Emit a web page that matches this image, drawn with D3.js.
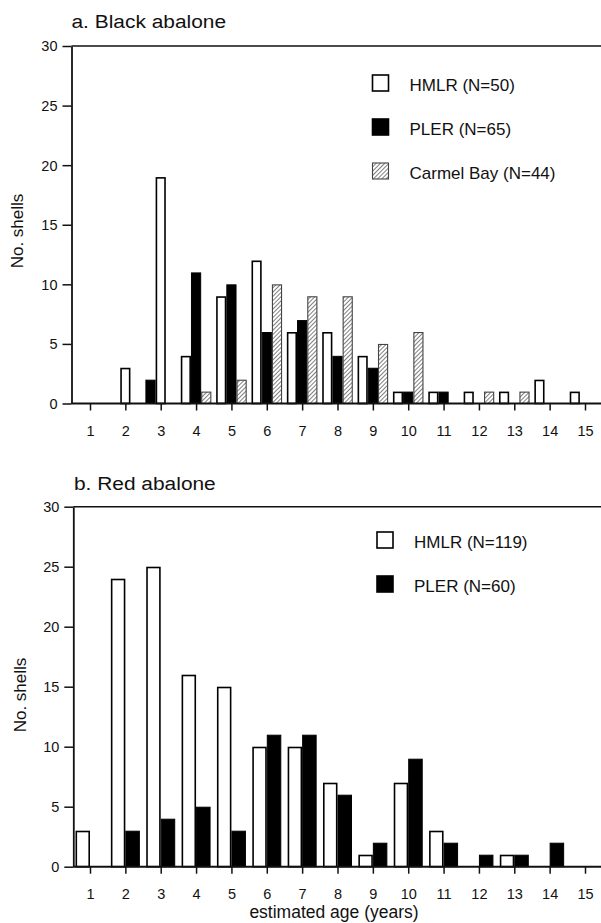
<!DOCTYPE html>
<html><head><meta charset="utf-8">
<script src="https://cdn.jsdelivr.net/npm/d3@7"></script>
<style>
body{margin:0;background:#fff}
svg text{font-family:"Liberation Sans",Arial,Helvetica,sans-serif;fill:#111}
</style>
</head><body>
<svg id="chart" width="601" height="923"></svg>
<script>
// ---------- data ----------
const ages = [1,2,3,4,5,6,7,8,9,10,11,12,13,14,15];
const blackHMLR   = [0,3,19,4,9,12,6,6,4,1,1,1,1,2,1];
const blackPLER   = [0,0,2,11,10,6,7,4,3,1,1,0,0,0,0];
const blackCarmel = [0,0,0,1,2,10,9,9,5,6,0,1,1,0,0];
const redHMLR     = [3,24,25,16,15,10,10,7,1,7,3,0,1,0,0];
const redPLER     = [0,3,4,5,3,11,11,6,2,9,2,1,1,2,0];
const yTicks = [0,5,10,15,20,25,30];
const blackLegend = ["HMLR (N=50)","PLER (N=65)","Carmel Bay (N=44)"];
const redLegend = ["HMLR (N=119)","PLER (N=60)"];
const titles = ["a. Black abalone","b. Red abalone"];
const yLabel = "No. shells";
const xLabel = "estimated age (years)";

// ---------- drawing ----------
const svg = d3.select("#chart");
const W = 601;
const defs = svg.append("defs");
const pat = defs.append("pattern").attr("id","hatch").attr("patternUnits","userSpaceOnUse")
  .attr("width",3).attr("height",3).attr("patternTransform","rotate(45)");
pat.append("rect").attr("width",3).attr("height",3).attr("fill","#fff");
pat.append("line").attr("x1",0).attr("y1",0).attr("x2",0).attr("y2",3)
  .attr("stroke","#2a2a2a").attr("stroke-width",1.2);

const x = d3.scaleLinear().domain([1,15]).range([90,585]);

const styles = {
  HMLR:   {fill:"#fff", stroke:"#000", sw:1.6},
  PLER:   {fill:"#000", stroke:"#000", sw:1},
  Carmel: {fill:"url(#hatch)", stroke:"#444", sw:1.1}
};

function panel(cfg){
  const g = svg.append("g");
  const y = d3.scaleLinear().domain([0,30]).range([cfg.y0, cfg.y30]);
  const slot = d3.scaleBand().domain(cfg.slots).range(cfg.slotRange).padding(0);

  g.append("line").attr("x1",cfg.ax).attr("x2",W).attr("y1",y(30)).attr("y2",y(30))
    .attr("stroke","#111").attr("stroke-width",1.6);

  cfg.series.forEach(s => {
    const st = styles[s.key];
    g.append("g").selectAll("rect")
      .data(ages.map((a,i)=>({age:a, v:s.values[i]})).filter(d=>d.v>0))
      .join("rect")
      .attr("x", d => x(d.age) + slot(cfg.slotFor(s.key,d.age)) + st.sw/2)
      .attr("width", slot.bandwidth() - st.sw)
      .attr("y", d => y(d.v) + st.sw/2)
      .attr("height", d => Math.max(0, y(0) - y(d.v) - st.sw/2))
      .attr("fill", st.fill).attr("stroke", st.stroke).attr("stroke-width", st.sw);
  });

  const ya = g.append("g").attr("transform",`translate(${cfg.ax},0)`)
    .call(d3.axisLeft(y).tickValues(yTicks).tickSize(9).tickSizeOuter(0).tickPadding(5));
  ya.attr("font-size",null).attr("font-family",null);
  ya.select(".domain").attr("stroke","#111").attr("stroke-width",1.8);
  ya.selectAll(".tick line").attr("stroke","#111").attr("stroke-width",1.5);
  ya.selectAll(".tick text").style("font-size","14.5px").attr("dy","0.34em");

  const xa = g.append("g").attr("transform",`translate(0,${y(0)})`)
    .call(d3.axisBottom(x).tickValues(ages).tickSize(7).tickSizeOuter(0).tickPadding(15));
  xa.attr("font-size",null).attr("font-family",null);
  xa.select(".domain").remove();
  xa.selectAll(".tick line").attr("stroke","#111").attr("stroke-width",1.5);
  xa.selectAll(".tick text").style("font-size","14.5px");
  g.append("line").attr("x1",cfg.ax).attr("x2",W).attr("y1",y(0)).attr("y2",y(0))
    .attr("stroke","#111").attr("stroke-width",2);

  g.append("text").attr("transform",`translate(${cfg.titleX},${cfg.titleY}) scale(1.1,1)`)
    .style("font-size","19px").text(cfg.title);

  g.append("text").attr("transform",`translate(${cfg.ylabX},${cfg.ylabY}) rotate(-90)`)
    .attr("text-anchor","middle").style("font-size","17px").text(yLabel);

  const lg = g.append("g");
  cfg.series.forEach((s,i)=>{
    const st = styles[s.key];
    const yy = cfg.legY + i*44;
    lg.append("rect").attr("x",cfg.legX).attr("y",yy)
      .attr("width",16).attr("height",16)
      .attr("fill",st.fill).attr("stroke",st.stroke).attr("stroke-width",s.key==="Carmel"?1.1:1.6);
    lg.append("text").attr("x",cfg.legX+37).attr("y",yy+15.5)
      .style("font-size","17px").text(cfg.legend[i]);
  });
}

const swapAges = new Set([2,3]);
panel({
  y0:403.5, y30:46, ax:71.5,
  slots:["L","C","R"], slotRange:[-15.3,15.3],
  slotFor:(k,age)=>{
    if (k==="Carmel") return "R";
    if (swapAges.has(age)) return k==="HMLR" ? "C" : "L";
    return k==="HMLR" ? "L" : "C";
  },
  series:[{key:"HMLR",values:blackHMLR},{key:"PLER",values:blackPLER},{key:"Carmel",values:blackCarmel}],
  legend:blackLegend, legX:372.5, legY:75,
  title:titles[0], titleX:71.5, titleY:28,
  ylabX:23, ylabY:231
});
panel({
  y0:866.7, y30:506.7, ax:73.3,
  slots:["L","C"], slotRange:[-14.5,14.5],
  slotFor:(k)=> k==="HMLR" ? "L" : "C",
  series:[{key:"HMLR",values:redHMLR},{key:"PLER",values:redPLER}],
  legend:redLegend, legX:377, legY:532,
  title:titles[1], titleX:74, titleY:490,
  ylabX:26, ylabY:695
});

svg.append("text").attr("x",334).attr("y",918).attr("text-anchor","middle")
  .style("font-size","17.5px").text(xLabel);
</script>
</body></html>
